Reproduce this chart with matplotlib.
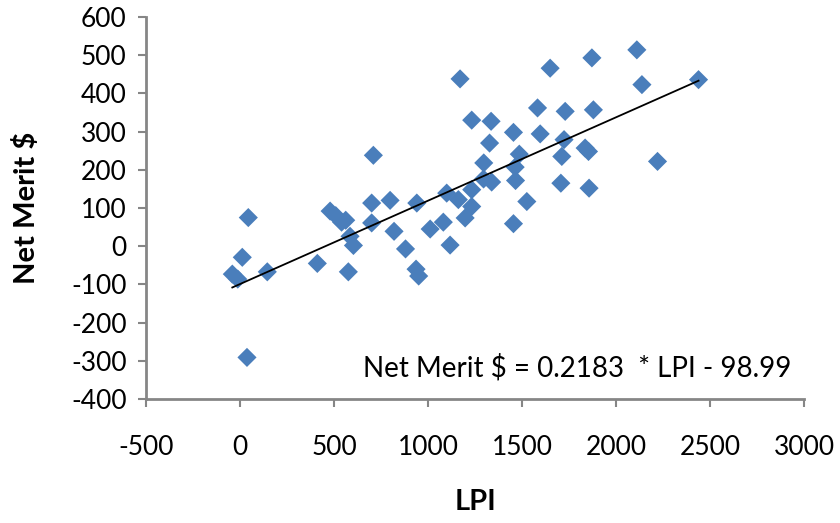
import numpy as np
import matplotlib.pyplot as plt

# ── Daten ──────────────────────────────────────────────────────────────────
lpi = [44, 12, -41, -12, 145, 411, 576, 37, 479, 509, 540, 562, 585, 603,
       700, 798, 700, 819, 880, 709, 940, 936, 950, 1011, 1081, 1099, 1117,
       1161, 1197, 1232, 1232, 1170, 1232, 1335, 1327, 1296, 1295, 1338,
       1454, 1485, 1463, 1465, 1454, 1525, 1582, 1596, 1649, 1871, 2110,
       2137, 2438, 1729, 1879, 1723, 1835, 1853, 1711, 2220, 1706, 1856]
net_merit = [75, -29, -73, -86, -67, -45, -67, -291, 92, 80, 63, 68, 26, 2,
             113, 120, 61, 39, -7, 238, 113, -60, -78, 45, 63, 139, 3,
             122, 74, 104, 148, 438, 330, 327, 270, 218, 176, 168,
             298, 241, 207, 172, 59, 117, 362, 294, 466, 493, 514,
             423, 436, 353, 357, 279, 257, 248, 235, 222, 165, 152]

slope = 0.2183
intercept = -98.99
equation = "Net Merit $ = 0.2183  * LPI - 98.99"

x_ticks = [-500, 0, 500, 1000, 1500, 2000, 2500, 3000]
y_ticks = [-400, -300, -200, -100, 0, 100, 200, 300, 400, 500, 600]

plt.rcParams['font.family'] = ['Lato', 'DejaVu Sans']
plt.rcParams['axes.unicode_minus'] = False

# ── Plot ───────────────────────────────────────────────────────────────────
fig = plt.figure(figsize=(8.4, 5.23), dpi=100)
ax = fig.add_axes([0.1738, 0.237, 0.7836, 0.7305])

ax.scatter(lpi, net_merit, marker="D", s=95, color="#4a7ebb",
           edgecolors="none", zorder=3)

x_fit = np.array([min(lpi), max(lpi)])
ax.plot(x_fit, slope * x_fit + intercept, color="black", linewidth=1.3,
        zorder=4)

ax.text(0.33, 0.081, equation, transform=ax.transAxes, fontsize=20,
        va="center", ha="left")

ax.set_xlim(-500, 3000)
ax.set_ylim(-400, 600)
ax.set_xticks(x_ticks)
ax.set_yticks(y_ticks)
ax.tick_params(axis="both", labelsize=19, color="#868686", length=6,
               width=1.5, direction="out")
ax.tick_params(axis="x", pad=20)
ax.tick_params(axis="y", pad=8)

for side in ["top", "right"]:
    ax.spines[side].set_visible(False)
for side in ["left", "bottom"]:
    ax.spines[side].set_color("#868686")
    ax.spines[side].set_linewidth(2)

ax.set_xlabel("LPI", fontsize=21, fontweight="bold", labelpad=21)
ax.set_ylabel("Net Merit $", fontsize=21, fontweight="bold", labelpad=22)

plt.savefig("out.png", dpi=100)
